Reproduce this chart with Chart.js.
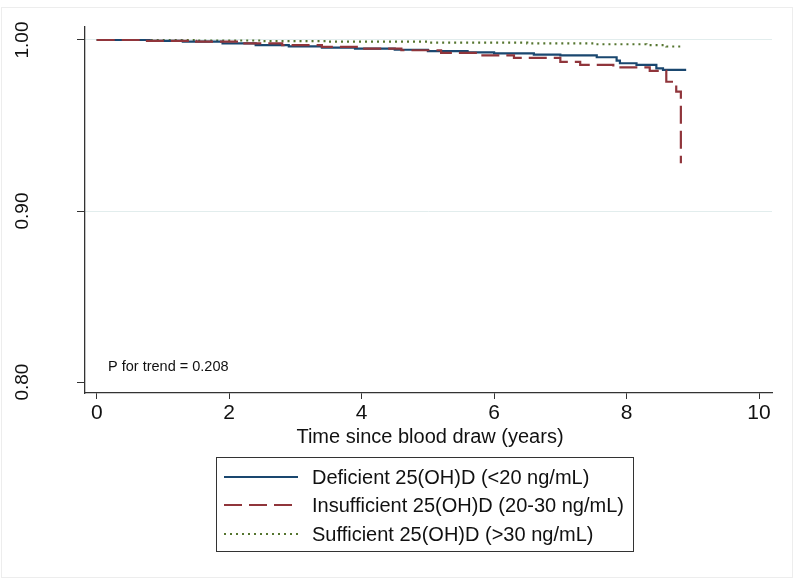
<!DOCTYPE html>
<html>
<head>
<meta charset="utf-8">
<script src="https://cdn.jsdelivr.net/npm/chart.js@4.4.0/dist/chart.umd.min.js"></script>
<style>
  html, body { margin: 0; padding: 0; background: #fff; }
  #wrap { position: relative; width: 800px; height: 585px; }
</style>
</head>
<body>
<div id="wrap"><canvas id="km" width="800" height="585"></canvas></div>
<script>
// Kaplan-Meier style survival
var deficientTime = [0, 0.8, 1.3, 1.9, 2.4, 2.9, 3.4, 3.9, 4.5, 5.0, 5.6, 6.0, 6.6, 7.0, 7.55, 7.85, 7.9, 8.15, 8.45, 8.55, 8.9];
var deficientSurv = [1.000, 0.9995, 0.999, 0.998, 0.997, 0.9963, 0.9955, 0.995, 0.9943, 0.9935, 0.9928, 0.9922, 0.9915, 0.991, 0.9899, 0.9879, 0.9864, 0.9854, 0.9834, 0.9825, 0.9825];

var insuffTime = [0, 0.7, 1.5, 2.2, 2.8, 3.4, 4.0, 4.6, 5.2, 5.8, 6.3, 7.0, 7.3, 7.8, 8.35, 8.6, 8.75, 8.82];
var insuffSurv = [1.000, 0.9995, 0.999, 0.998, 0.997, 0.996, 0.995, 0.994, 0.9925, 0.991, 0.9895, 0.9872, 0.9854, 0.984, 0.9819, 0.9756, 0.9698, 0.928];

var suffTime = [0, 1.5, 2.5, 3.5, 5.0, 6.5, 7.5, 8.3, 8.6, 8.85];
var suffSurv = [1.000, 0.9997, 0.9993, 0.999, 0.9985, 0.998, 0.9975, 0.997, 0.9962, 0.9962];

var seriesNames = ['Deficient 25(OH)D (<20 ng/mL)', 'Insufficient 25(OH)D (20-30 ng/mL)', 'Sufficient 25(OH)D (>30 ng/mL)'];
var xTicks = [0, 2, 4, 6, 8, 10];
var yTicks = [0.80, 0.90, 1.00];
var yTickLabels = ['0.80', '0.90', '1.00'];
var xTitle = 'Time since blood draw (years)';
var noteText = 'P for trend = 0.208';

function pts(t, s) {
    return t.map(function (v, i) { return { x: v, y: s[i] }; });
}

var colors = ['#1a476f', '#90353b', '#55752f'];
var dashes = [[], [18, 7], [2, 4]];

var framePlugin = {
    id: 'frame',
    beforeDraw: function (chart) {
        var ctx = chart.ctx;
        ctx.save();
        ctx.fillStyle = '#fff';
        ctx.fillRect(0, 0, chart.width, chart.height);
        ctx.strokeStyle = '#ededed';
        ctx.lineWidth = 1;
        ctx.strokeRect(1.5, 7.5, 791, 570);
        ctx.restore();
    },
    afterDraw: function (chart) {
        var ctx = chart.ctx;
        var ys = chart.scales.y;
        var xs = chart.scales.x;
        ctx.save();
        // rotated y tick labels
        ctx.fillStyle = '#111';
        ctx.font = '19px "Liberation Sans", Arial, sans-serif';
        ctx.textAlign = 'center';
        ctx.textBaseline = 'middle';
        yTicks.forEach(function (v, i) {
            ctx.save();
            ctx.translate(23, ys.getPixelForValue(v));
            ctx.rotate(-Math.PI / 2);
            ctx.fillText(yTickLabels[i], 0, 0);
            ctx.restore();
        });
        // x axis title
        ctx.font = '20px "Liberation Sans", Arial, sans-serif';
        ctx.textBaseline = 'middle';
        ctx.fillText(xTitle, 430, 437);
        // note
        ctx.font = '14.5px "Liberation Sans", Arial, sans-serif';
        ctx.textAlign = 'left';
        ctx.fillText(noteText, 108, 367);
        // legend
        ctx.strokeStyle = '#333';
        ctx.lineWidth = 1;
        ctx.strokeRect(216.5, 457.5, 417, 94);
        var rowY = [477, 505, 534];
        ctx.font = '20px "Liberation Sans", Arial, sans-serif';
        chart.data.datasets.forEach(function (ds, i) {
            ctx.save();
            ctx.strokeStyle = ds.borderColor;
            ctx.lineWidth = ds.borderWidth;
            ctx.setLineDash(ds.borderDash);
            ctx.beginPath();
            ctx.moveTo(224, rowY[i]);
            ctx.lineTo(298, rowY[i]);
            ctx.stroke();
            ctx.restore();
            ctx.fillStyle = '#111';
            ctx.fillText(ds.label, 312, rowY[i] + 1);
        });
        ctx.restore();
    }
};

var chart = new Chart(document.getElementById('km'), {
    type: 'line',
    data: {
        datasets: [
            { label: seriesNames[0], data: pts(deficientTime, deficientSurv), borderColor: colors[0], borderWidth: 2.2, borderDash: dashes[0], stepped: true, pointRadius: 0, fill: false, order: 2 },
            { label: seriesNames[1], data: pts(insuffTime, insuffSurv), borderColor: colors[1], borderWidth: 2.2, borderDash: dashes[1], stepped: true, pointRadius: 0, fill: false, order: 1 },
            { label: seriesNames[2], data: pts(suffTime, suffSurv), borderColor: colors[2], borderWidth: 2.2, borderDash: dashes[2], stepped: true, pointRadius: 0, fill: false, order: 3 }
        ]
    },
    options: {
        responsive: false,
        animation: false,
        layout: { padding: { left: 0, top: 27, right: 28, bottom: 0 } },
        plugins: { legend: { display: false }, tooltip: { enabled: false } },
        scales: {
            x: {
                type: 'linear',
                min: -0.177,
                max: 10.196,
                afterBuildTicks: function (s) { s.ticks = xTicks.map(function (v) { return { value: v }; }); },
                afterFit: function (s) { s.height = 192; },
                grid: { drawOnChartArea: false, drawTicks: true, tickLength: 6, tickColor: '#333', color: '#333' },
                border: { color: '#333', width: 1.3 },
                ticks: {
                    padding: 2,
                    color: '#111',
                    maxRotation: 0,
                    font: { family: '"Liberation Sans", Arial', size: 21 }
                }
            },
            y: {
                type: 'linear',
                min: 0.7936,
                max: 1.0076,
                afterBuildTicks: function (s) { s.ticks = yTicks.map(function (v) { return { value: v }; }); },
                afterFit: function (s) { s.width = 85; },
                grid: {
                    drawTicks: true,
                    tickLength: 8,
                    tickColor: '#333',
                    lineWidth: 1,
                    color: function (c) { return c.tick && c.tick.value > 0.85 ? '#e2eded' : 'rgba(0,0,0,0)'; }
                },
                border: { color: '#333', width: 1.3 },
                ticks: { display: false }
            }
        }
    },
    plugins: [framePlugin]
});
</script>
</body>
</html>
